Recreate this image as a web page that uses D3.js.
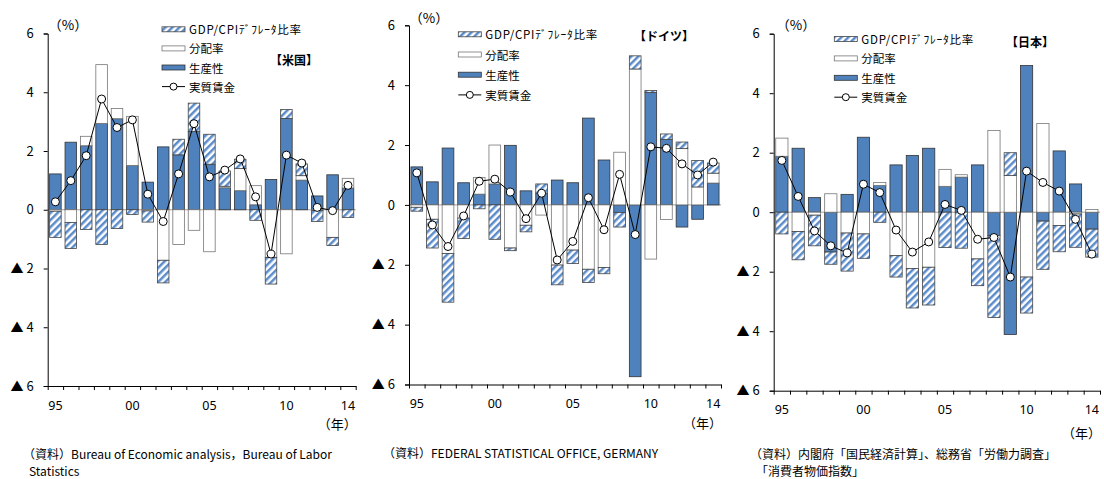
<!DOCTYPE html>
<html>
<head>
<meta charset="utf-8">
<script src="https://cdn.jsdelivr.net/npm/d3@7"></script>
<style>
  body { margin: 0; background: #fff; }
  text { font-family: "Noto Sans CJK JP", "Noto Sans", sans-serif; fill: #000; }
  .yax .tick text { font-family: "Noto Sans CJK JP", sans-serif; font-size: 13px; }
</style>
</head>
<body>
<svg id="chart" width="1104" height="479"></svg>
<script>
// categories
var years = [1995, 1996, 1997, 1998, 1999, 2000, 2001, 2002, 2003, 2004,
             2005, 2006, 2007, 2008, 2009, 2010, 2011, 2012, 2013, 2014];
var yearLabels = { 1995: '95', 2000: '00', 2005: '05', 2010: '10', 2014: '14' };
var yTicks = [-6, -4, -2, 0, 2, 4, 6];
var seriesNames = ['GDP/CPIﾃﾞﾌﾚｰﾀ比率', '分配率', '生産性', '実質賃金'];

// 米国
var usProd  = [1.22, 2.30, 2.18, 2.94, 3.10, 1.51, 0.94, 2.14, 1.87, 2.66, 1.55, 0.75, 0.65, 0.17, 1.03, 3.11, 1.01, 0.47, 1.19, 0.74];
var usShare = [-0.05, -0.43, 0.32, 2.00, 0.35, 1.67, -0.04, -1.72, -1.18, -0.70, -1.43, 0.05, 0.75, 0.65, -1.62, -1.50, 0.15, -0.03, -0.94, 0.33];
var usDefl  = [-0.89, -0.89, -0.67, -1.18, -0.64, -0.16, -0.38, -0.77, 0.53, 0.97, 1.02, 0.52, 0.32, -0.36, -0.91, 0.30, 0.40, -0.37, -0.28, -0.26];
var usWage  = [0.27, 0.99, 1.84, 3.77, 2.80, 3.06, 0.53, -0.40, 1.22, 2.93, 1.12, 1.35, 1.73, 0.44, -1.51, 1.86, 1.59, 0.08, -0.03, 0.83];

// ドイツ
var deProd  = [1.27, 0.77, 1.90, 0.74, 0.36, 0.70, 1.99, 0.47, 0.39, 0.83, 0.74, 2.90, 1.50, -0.25, -5.74, 3.76, 2.19, -0.74, -0.48, 0.73];
var deShare = [-0.08, -0.48, -1.62, -0.44, 0.56, 1.30, -1.44, -0.68, -0.34, -2.01, -1.51, -2.15, -2.09, 1.76, 4.54, -1.81, -0.49, 1.88, 0.60, 0.33];
var deDefl  = [-0.13, -0.96, -1.63, -0.68, -0.13, -1.15, -0.09, -0.22, 0.31, -0.66, -0.45, -0.44, -0.21, -0.49, 0.44, 0.06, 0.18, 0.22, 0.88, 0.34];
var deWage  = [1.07, -0.67, -1.39, -0.37, 0.79, 0.86, 0.43, -0.46, 0.39, -1.84, -1.22, 0.24, -0.83, 1.02, -0.99, 1.94, 1.89, 1.37, 1.00, 1.43];

// 日本
var jpProd  = [1.88, 2.15, 0.49, -1.34, 0.60, 2.52, 0.90, 1.59, 1.91, 2.15, 0.87, 1.18, 1.59, -0.78, -4.11, 4.93, -0.30, 2.06, 0.95, -0.57];
var jpShare = [0.61, -0.65, -0.10, 0.62, -0.70, -0.73, 0.10, -1.46, -1.89, -1.85, 0.57, 0.08, -1.57, 2.75, 1.23, -2.18, 2.98, -0.45, -0.06, 0.09];
var jpDefl  = [-0.73, -0.95, -1.03, -0.41, -1.28, -0.82, -0.34, -0.72, -1.33, -1.27, -1.19, -1.21, -0.90, -2.76, 0.77, -1.21, -1.62, -0.88, -1.12, -0.94];
var jpWage  = [1.74, 0.53, -0.63, -1.13, -1.37, 0.94, 0.66, -0.60, -1.34, -1.00, 0.26, 0.06, -0.91, -0.85, -2.18, 1.38, 1.00, 0.71, -0.24, -1.41];

var panels = [
  { title: '【米国】', prod: usProd, share: usShare, defl: usDefl, wage: usWage,
    left: 47.7, right: 355.7, top: 33.5, bottom: 386,
    pct: [68, 24], leg: [162, 29.3, 19.1], titlePos: [294, 59], nenY: 423,
    source: ['（資料）Bureau of Economic analysis，Bureau of Labor', 'Statistics'],
    srcX: [23, 29], srcY: [453, 470] },
  { title: '【ドイツ】', prod: deProd, share: deShare, defl: deDefl, wage: deWage,
    left: 409, right: 721, top: 25.3, bottom: 384.5,
    pct: [429, 16.7], leg: [458.3, 34.3, 20.2], titlePos: [664, 35.7], nenY: 422,
    source: ['（資料）FEDERAL STATISTICAL OFFICE, GERMANY'],
    srcX: [383], srcY: [452] },
  { title: '【日本】', prod: jpProd, share: jpShare, defl: jpDefl, wage: jpWage,
    left: 773.7, right: 1100, top: 33.7, bottom: 390.7,
    pct: [796, 24.3], leg: [834.3, 39, 19.4], titlePos: [1030, 41], nenY: 432,
    source: ['（資料）内閣府「国民経済計算」、総務省「労働力調査」', '「消費者物価指数」'],
    srcX: [750, 756], srcY: [453, 470] }
];

var BLUE = '#4f81bd';
var svg = d3.select('#chart');

var defs = svg.append('defs');
var pat = defs.append('pattern')
  .attr('id', 'hatch')
  .attr('patternUnits', 'userSpaceOnUse')
  .attr('width', 5).attr('height', 5)
  .attr('patternTransform', 'rotate(45)');
pat.append('rect').attr('width', 5).attr('height', 5).attr('fill', '#fff');
pat.append('rect').attr('width', 2.5).attr('height', 5).attr('fill', '#5b8cc9');

// stacking order: 生産性 at the base, then 分配率, then GDP/CPI
var keys = ['prod', 'share', 'defl'];
var fills = { prod: BLUE, share: '#fff', defl: 'url(#hatch)' };
var strokes = { prod: '#333', share: '#777', defl: '#444' };

function drawPanel(p) {
  var g = svg.append('g');

  var rows = years.map(function(yr, i) {
    return { year: yr, prod: p.prod[i], share: p.share[i], defl: p.defl[i], wage: p.wage[i] };
  });

  var x = d3.scaleBand().domain(years).range([p.left, p.right])
    .paddingInner(0.25).paddingOuter(0.125);
  var xLin = d3.scaleLinear().domain([0, years.length]).range([p.left, p.right]);
  var y = d3.scaleLinear().domain([-6, 6]).range([p.bottom, p.top]);

  // zero line
  g.append('line')
    .attr('x1', p.left).attr('x2', p.right)
    .attr('y1', y(0)).attr('y2', y(0))
    .attr('stroke', '#888').attr('stroke-width', 0.8);

  var stacked = d3.stack().keys(keys).offset(d3.stackOffsetDiverging)(rows);

  stacked.forEach(function(layer) {
    g.append('g').selectAll('rect')
      .data(layer.filter(function(d) { return d[1] !== d[0]; }))
      .join('rect')
      .attr('x', function(d) { return x(d.data.year); })
      .attr('width', x.bandwidth())
      .attr('y', function(d) { return y(Math.max(d[0], d[1])); })
      .attr('height', function(d) { return Math.abs(y(d[0]) - y(d[1])); })
      .attr('fill', fills[layer.key])
      .attr('stroke', strokes[layer.key])
      .attr('stroke-width', 0.8);
  });

  // 実質賃金 line
  var line = d3.line()
    .x(function(d) { return x(d.year) + x.bandwidth() / 2; })
    .y(function(d) { return y(d.wage); });
  g.append('path').datum(rows)
    .attr('d', line).attr('fill', 'none')
    .attr('stroke', '#000').attr('stroke-width', 1);
  g.append('g').selectAll('circle').data(rows).join('circle')
    .attr('cx', function(d) { return x(d.year) + x.bandwidth() / 2; })
    .attr('cy', function(d) { return y(d.wage); })
    .attr('r', 4).attr('fill', '#fff')
    .attr('stroke', '#000').attr('stroke-width', 1);

  // axes
  var yAxis = d3.axisLeft(y).tickValues(yTicks).tickSize(4).tickPadding(10)
    .tickFormat(function(d) { return d < 0 ? '▲ ' + (-d) : d; });
  g.append('g').attr('class', 'yax').attr('transform', 'translate(' + p.left + ',0)').call(yAxis)
    .call(function(a) {
      a.select('.domain').attr('stroke', '#000');
      a.selectAll('.tick line').attr('stroke', '#000');
    });

  var xAxis = d3.axisBottom(xLin).tickValues(d3.range(years.length + 1))
    .tickSize(4).tickSizeOuter(0).tickFormat('');
  g.append('g').attr('transform', 'translate(0,' + p.bottom + ')').call(xAxis)
    .call(function(a) {
      a.select('.domain').attr('stroke', '#000');
      a.selectAll('.tick line').attr('stroke', '#000');
    });

  g.append('g').selectAll('text')
    .data(years.filter(function(yr) { return yearLabels[yr]; }))
    .join('text')
    .attr('x', function(yr) { return x(yr) + x.bandwidth() / 2; })
    .attr('y', p.bottom + 19)
    .attr('text-anchor', 'middle').attr('dominant-baseline', 'central')
    .style('font-family', '"Noto Sans", sans-serif').style('font-size', '12.5px')
    .text(function(yr) { return yearLabels[yr]; });

  g.append('text').attr('x', p.right + 1).attr('y', p.nenY)
    .attr('text-anchor', 'end').attr('dominant-baseline', 'central')
    .style('font-size', '13px').text('（年）');

  g.append('text').attr('x', p.pct[0]).attr('y', p.pct[1])
    .attr('text-anchor', 'middle').attr('dominant-baseline', 'central')
    .style('font-size', '13.5px').text('（%）');

  g.append('text').attr('x', p.titlePos[0]).attr('y', p.titlePos[1])
    .attr('text-anchor', 'middle').attr('dominant-baseline', 'central')
    .style('font-size', '12px').style('font-weight', 'bold').text(p.title);

  // legend
  var leg = g.append('g');
  var legFill = [fills.defl, fills.share, fills.prod];
  var legStroke = [strokes.defl, strokes.share, strokes.prod];
  seriesNames.forEach(function(name, i) {
    var ly = p.leg[1] + i * p.leg[2];
    if (i < 3) {
      leg.append('rect').attr('x', p.leg[0]).attr('y', ly - 2.5)
        .attr('width', 23).attr('height', 5)
        .attr('fill', legFill[i]).attr('stroke', legStroke[i]).attr('stroke-width', 0.8);
    } else {
      leg.append('line').attr('x1', p.leg[0]).attr('x2', p.leg[0] + 23)
        .attr('y1', ly).attr('y2', ly).attr('stroke', '#000');
      leg.append('circle').attr('cx', p.leg[0] + 11.5).attr('cy', ly).attr('r', 3.5)
        .attr('fill', '#fff').attr('stroke', '#000');
    }
    var t = leg.append('text').attr('x', p.leg[0] + 27).attr('y', ly)
      .attr('dominant-baseline', 'central').style('font-size', '11.5px').text(name);
    if (i === 0) t.attr('textLength', 112).attr('lengthAdjust', 'spacing');
  });

  // source
  p.source.forEach(function(s, i) {
    g.append('text').attr('x', p.srcX[i]).attr('y', p.srcY[i])
      .attr('dominant-baseline', 'central').style('font-size', '12px').text(s);
  });
}

panels.forEach(drawPanel);
</script>
</body>
</html>
